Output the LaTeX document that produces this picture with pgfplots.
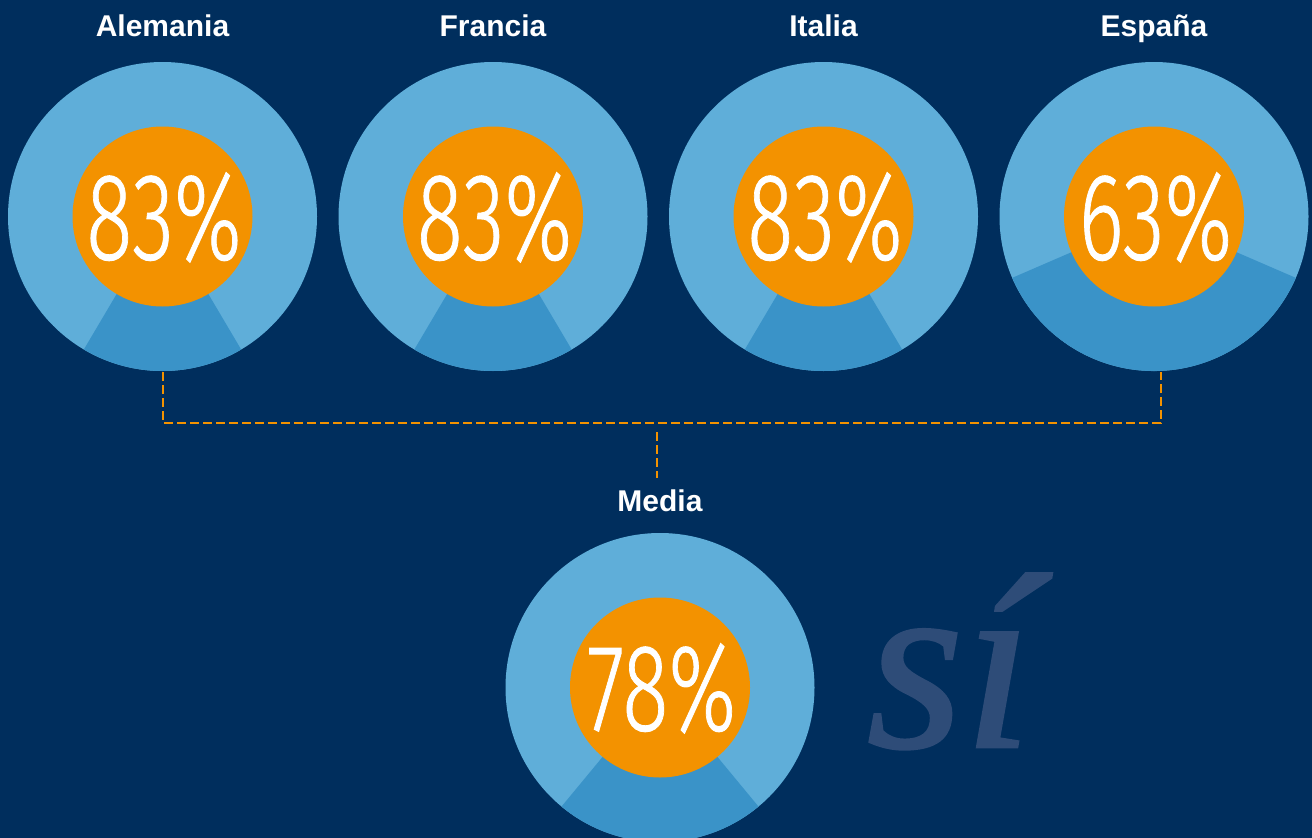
\documentclass[border=0pt]{standalone}
\usepackage{pgfplots}
\pgfplotsset{compat=1.18}
\usepackage{fontspec}
\setmainfont{Liberation Sans}
\newfontface\sifont{Liberation Serif Italic}[FakeBold=1]
\newfontface\pctfont{Fira Sans Light}[FakeBold=0.8]
\usepackage{graphicx}
\definecolor{bg}{HTML}{002E5D}
\definecolor{lightb}{HTML}{5FAED9}
\definecolor{darkb}{HTML}{3A93C8}
\definecolor{orng}{HTML}{F39200}
\definecolor{siblue}{HTML}{2E4C78}
% donut: center x, center y, share (percent), label, label baseline y
\newcommand{\donut}[5]{%
  \fill[lightb] (axis cs:#1,#2) circle[radius=154.5pt];
  \fill[darkb] (axis cs:#1,#2) -- +({270-(100-#3)*1.8}:154.5pt)
     arc[start angle={270-(100-#3)*1.8}, end angle={270+(100-#3)*1.8}, radius=154.5pt] -- cycle;
  \fill[orng] (axis cs:#1,#2) circle[radius=90pt];
  \node[anchor=base, text=white, inner sep=0pt,
        font=\pctfont\fontsize{124}{124}\selectfont]
     at (axis cs:#1+1.5,#2+43) {\scalebox{0.69}[1]{#3\%}};
  \node[anchor=base, text=white, inner sep=0pt,
        font=\bfseries\fontsize{30}{36}\selectfont]
     at (axis cs:#1,#5) {#4};
}
\begin{document}
\begin{tikzpicture}
\begin{axis}[
  at={(0,0)}, anchor=south west,
  width=1312pt, height=838pt, scale only axis,
  xmin=0, xmax=1312, ymin=0, ymax=838, y dir=reverse,
  hide axis, clip=true,
]
\fill[bg] (axis cs:0,0) rectangle (axis cs:1312,838);
% connector lines
\addplot[orng, line width=2pt, dash pattern=on 9pt off 4pt, mark=none]
  coordinates {(163,372) (163,423) (1160.5,423) (1160.5,372)};
\addplot[orng, line width=2pt, dash pattern=on 9pt off 4pt, mark=none]
  coordinates {(657,432) (657,478)};
\donut{162.5}{216.5}{83}{Alemania}{36}
\donut{493}{216.5}{83}{Francia}{36}
\donut{823.5}{216.5}{83}{Italia}{36}
\donut{1154}{216.5}{63}{España}{36}
\donut{660}{687.5}{78}{Media}{511}
\node[anchor=base, text=siblue, inner sep=0pt,
      font=\sifont\fontsize{250}{250}\selectfont]
   at (axis cs:950,747) {sí};
\end{axis}
\end{tikzpicture}
\end{document}
